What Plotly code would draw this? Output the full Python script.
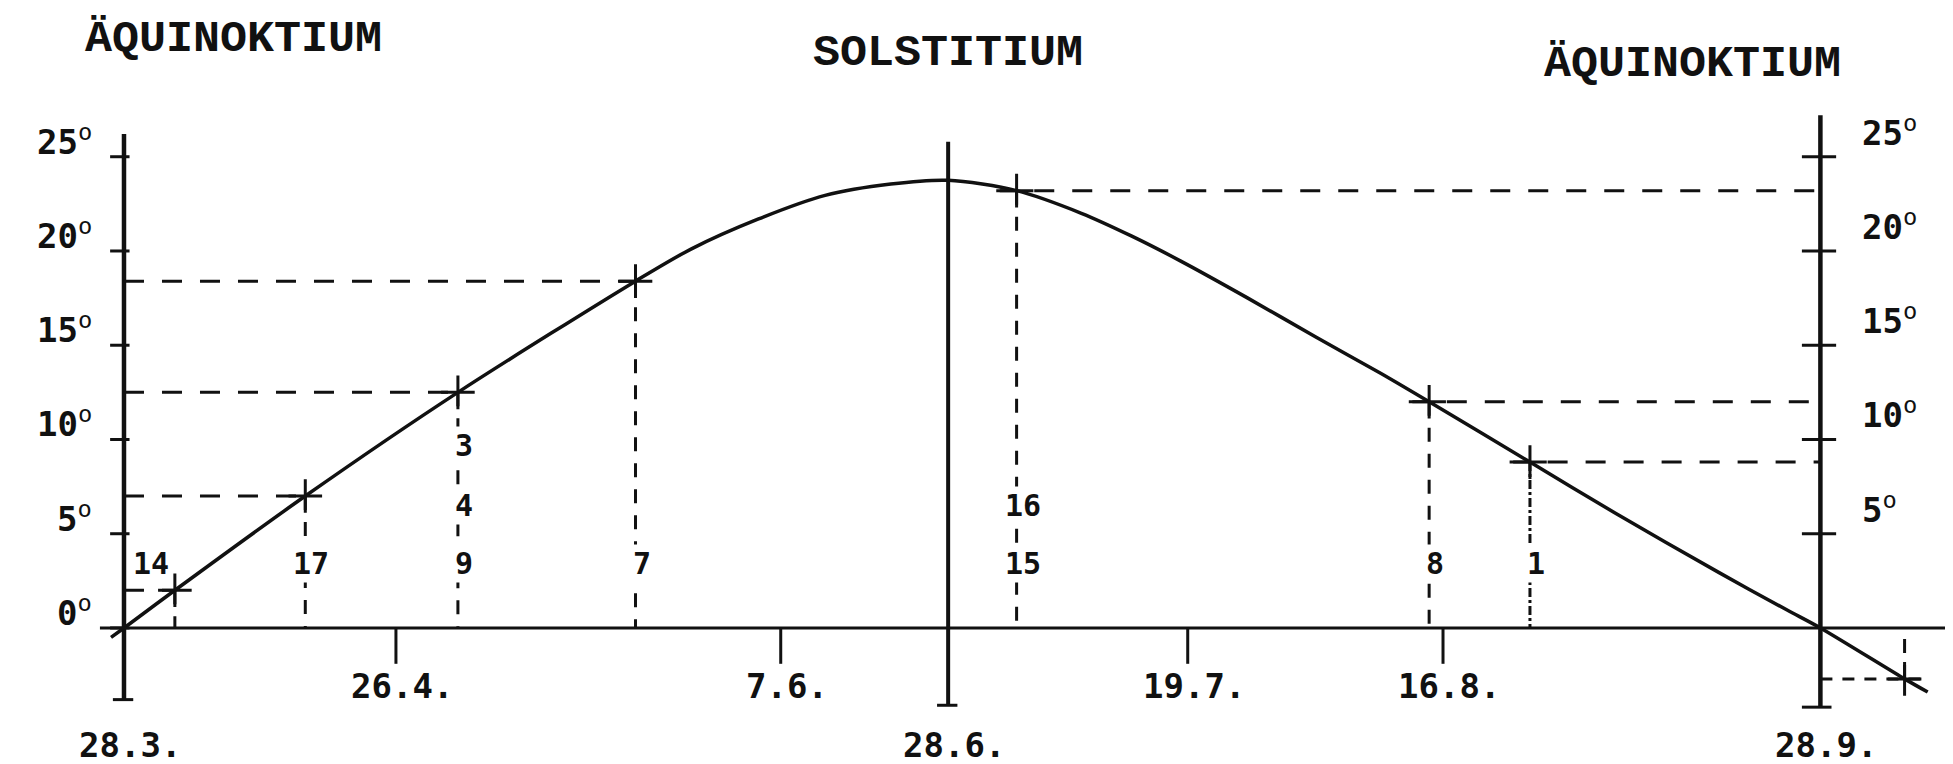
import plotly.graph_objects as go

# Declination curve as drawn: x = days after 28.3., y = degrees
curve_x = [-1.4, 0, 5.5, 19.6, 36.1, 55.3, 61.3, 68.6, 75.8, 82.9, 89.1, 96.5, 103.5,
           108.9, 114.3, 121.5, 128.8, 135.9, 141.1, 152.0, 161.2, 172.4, 179.8, 183.4,
           192.5, 195.0]
curve_y = [-0.5, 0, 2.0, 7.0, 12.5, 18.4, 20.1, 21.7, 22.95, 23.55, 23.75, 23.2, 22.0,
           20.8, 19.45, 17.5, 15.45, 13.5, 12.0, 8.8, 6.1, 2.95, 0.95, 0, -2.7, -3.4]

# marked days (crosses) and their numbers, listed from top to bottom
mark_x = [5.5, 19.6, 36.1, 55.3, 96.5, 141.1, 152.0, 192.5]
mark_y = [2.0, 7.0, 12.5, 18.4, 23.2, 12.0, 8.8, -2.7]
mark_labels = [["14"], ["17"], ["3", "4", "9"], ["7"], ["16", "15"], ["8"], ["1"], []]
mark_side = ["left", "left", "left", "left", "right", "right", "right", "right"]

date_ticks_x = [0, 29.4, 71.0, 89.1, 115.0, 142.6, 183.4]
date_ticks_text = ["28.3.", "26.4.", "7.6.", "28.6.", "19.7.", "16.8.", "28.9."]
deg_ticks = [0, 5, 10, 15, 20, 25]

titles = ["ÄQUINOKTIUM", "SOLSTITIUM", "ÄQUINOKTIUM"]

INK = "#111111"
NUM_FONT = "DejaVu Sans Mono"
TITLE_FONT = "Liberation Mono"

x_left, x_mid, x_right = date_ticks_x[0], date_ticks_x[3], date_ticks_x[-1]

fig = go.Figure()

# the curve
fig.add_trace(go.Scatter(x=curve_x, y=curve_y, mode="lines",
                         line=dict(color=INK, width=3.5, shape="spline", smoothing=0.8),
                         hoverinfo="skip"))

shapes = []


def seg(x0, y0, x1, y1, width=4, dash="solid"):
    shapes.append(dict(type="line", xref="x", yref="y", x0=x0, y0=y0, x1=x1, y1=y1,
                       line=dict(color=INK, width=width, dash=dash)))


# axes
seg(-2.6, 0, 197.9, 0, width=3)
seg(x_left, -3.8, x_left, 26.2, width=4.5)
seg(x_mid, -4.1, x_mid, 25.8, width=4)
seg(x_right, -4.2, x_right, 27.2, width=4.5)
# T ends at the bottom of the verticals
seg(x_left - 1.2, -3.8, x_left + 1.0, -3.8, width=3)
seg(x_mid - 1.2, -4.1, x_mid + 1.0, -4.1, width=3)
seg(x_right - 2.0, -4.2, x_right + 1.2, -4.2, width=3)

# degree ticks
for d in deg_ticks:
    seg(x_left - 1.5, d, x_left + 0.6, d, width=3)
    if d > 0:
        seg(x_right - 2.0, d, x_right + 1.7, d, width=3)

# date ticks below the zero line
for tx in date_ticks_x:
    if tx not in (x_left, x_mid, x_right):
        seg(tx, 0, tx, -1.9, width=3)

# guide lines from the marked points
for i, (mx, my) in enumerate(zip(mark_x, mark_y)):
    vdash = "dashdot" if mark_labels[i] == ["1"] else "14px,12px"
    seg(mx, my, mx, 0, width=3, dash=vdash)
    if mark_side[i] == "left":
        seg(x_left, my, mx, my, width=3, dash="20px,18px")
    elif my > 0:
        seg(mx - 2.2, my, x_right, my, width=3, dash="20px,18px")
    else:
        seg(x_right, my, mx + 2.5, my, width=3, dash="12px,10px")

fig.add_trace(go.Scatter(x=mark_x, y=mark_y, mode="markers",
                         marker=dict(symbol="cross-thin", size=24,
                                     line=dict(color=INK, width=3)),
                         hoverinfo="skip"))

ann = []
label_rows = [3.4, 6.5, 9.7]
for i, labs in enumerate(mark_labels):
    for k, lab in enumerate(reversed(labs)):
        ann.append(dict(x=mark_x[i], y=label_rows[k], text=f"<b>{lab}</b>", showarrow=False,
                        xshift=-24 if lab == "14" else 6, bgcolor="white",
                        font=dict(family=NUM_FONT, size=30, color=INK)))

# degree labels (small raised "o" as in the drawing)
for d in deg_ticks:
    ann.append(dict(x=x_left, y=d, text=f"<b>{d}</b><sup>o</sup>", showarrow=False,
                    xanchor="right", xshift=-30, yshift=17,
                    font=dict(family=NUM_FONT, size=34, color=INK)))
    if d > 0:
        ann.append(dict(x=x_right, y=d, text=f"<b>{d}</b><sup>o</sup>", showarrow=False,
                        xanchor="left", xshift=40, yshift=26,
                        font=dict(family=NUM_FONT, size=34, color=INK)))

# date labels: equinox/solstice dates sit lower
for tx, tt in zip(date_ticks_x, date_ticks_text):
    low = tx in (x_left, x_mid, x_right)
    ann.append(dict(x=tx, y=-6.2 if low else -3.1, text=f"<b>{tt}</b>", showarrow=False,
                    xshift=6,
                    font=dict(family=NUM_FONT, size=34, color=INK)))

ann.append(dict(x=196.9, y=-1.45, text="<b>2</b>", showarrow=False, xanchor="left",
                font=dict(family=NUM_FONT, size=34, color=INK)))

# titles
for tx, ty, t in zip([11.8, x_mid, 169.6], [31.2, 30.5, 29.9], titles):
    ann.append(dict(x=tx, y=ty, text=f"<b>{t}</b>", showarrow=False,
                    font=dict(family=TITLE_FONT, size=45, color=INK)))

fig.update_layout(
    width=1953, height=764,
    margin=dict(l=0, r=0, t=0, b=0),
    paper_bgcolor="white", plot_bgcolor="white",
    showlegend=False,
    xaxis=dict(range=[-12.54, 198.6], visible=False, fixedrange=True),
    yaxis=dict(range=[-7.64, 32.89], visible=False, fixedrange=True),
    shapes=shapes, annotations=ann,
)

fig.write_html("out.html")
